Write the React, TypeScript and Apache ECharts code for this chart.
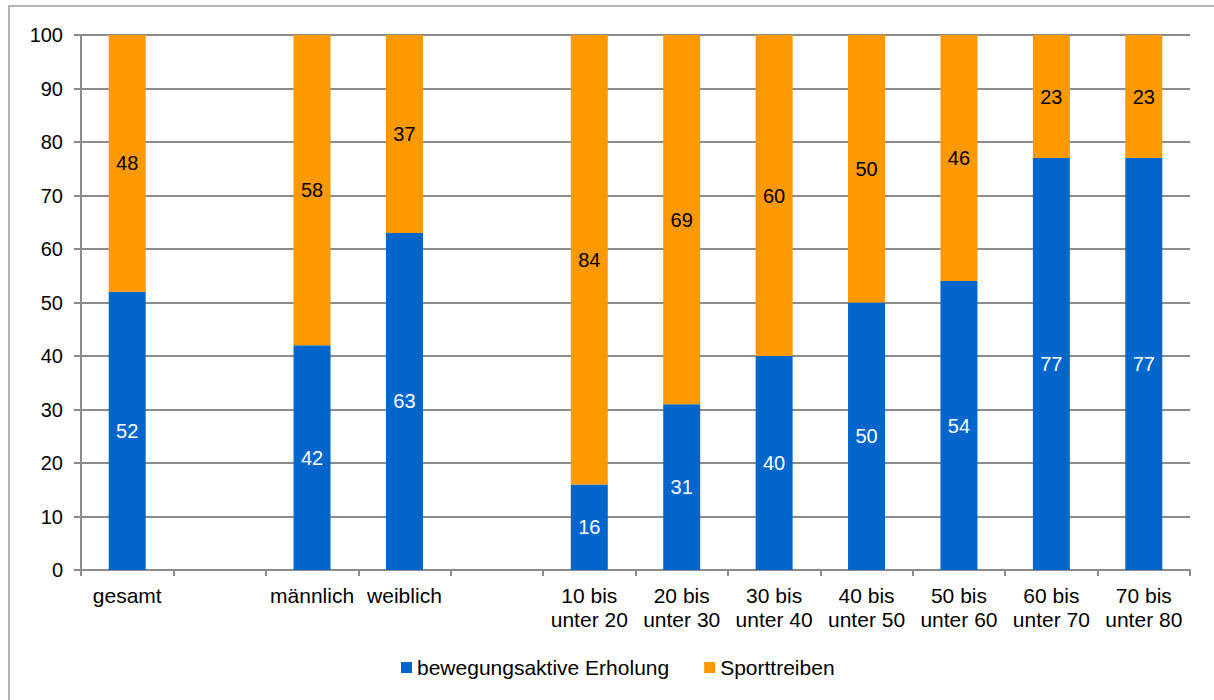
import React, { useEffect, useRef } from "react";
import * as echarts from "echarts";

const categories = [
  "gesamt", "", "männlich", "weiblich", "",
  "10 bis\nunter 20", "20 bis\nunter 30", "30 bis\nunter 40", "40 bis\nunter 50",
  "50 bis\nunter 60", "60 bis\nunter 70", "70 bis\nunter 80",
];
const erholung = [52, null, 42, 63, null, 16, 31, 40, 50, 54, 77, 77];
const sport = [48, null, 58, 37, null, 84, 69, 60, 50, 46, 23, 23];
const yTicks = { min: 0, max: 100, interval: 10 };

const FONT = "Liberation Sans, Arial, sans-serif";

export default function App() {
  const ref = useRef<HTMLDivElement>(null);
  useEffect(() => {
    if (!ref.current) return;
    const chart = echarts.init(ref.current, undefined, { renderer: "svg" });
    chart.setOption({
      animation: false,
      textStyle: { fontFamily: FONT },
      graphic: [
        {
          type: "rect",
          shape: { x: 9, y: 6, width: 1230, height: 720 },
          style: { fill: "none", stroke: "#9a9a9a", lineWidth: 1.5 },
          silent: true,
        },
      ],
      grid: { left: 81, right: 24, top: 35, bottom: 130, containLabel: false },
      legend: {
        top: 652,
        left: 396,
        itemWidth: 11,
        itemHeight: 11,
        itemGap: 35,
        icon: "rect",
        textStyle: { fontSize: 21, color: "#000", fontFamily: FONT, padding: [0, 0, 0, 0] },
        data: ["bewegungsaktive Erholung", "Sporttreiben"],
      },
      xAxis: {
        type: "category",
        data: categories,
        axisLine: { lineStyle: { color: "#8c8c8c", width: 2 } },
        axisTick: { show: true, interval: 0, length: 6, lineStyle: { color: "#8c8c8c", width: 2 } },
        axisLabel: {
          interval: 0,
          color: "#000",
          fontSize: 21,
          lineHeight: 24,
          margin: 13,
          fontFamily: FONT,
        },
      },
      yAxis: {
        type: "value",
        min: yTicks.min,
        max: yTicks.max,
        interval: yTicks.interval,
        axisLine: { show: true, lineStyle: { color: "#8c8c8c", width: 2 } },
        axisTick: { show: true, length: 7, lineStyle: { color: "#8c8c8c", width: 2 } },
        splitLine: { lineStyle: { color: "#8c8c8c", width: 2 } },
        axisLabel: { color: "#000", fontSize: 20, margin: 18, fontFamily: FONT },
      },
      series: [
        {
          name: "bewegungsaktive Erholung",
          type: "bar",
          stack: "s",
          barWidth: 37,
          data: erholung,
          itemStyle: { color: "#0066CC" },
          label: { show: true, position: "inside", color: "#fff", fontSize: 20, fontFamily: FONT },
        },
        {
          name: "Sporttreiben",
          type: "bar",
          stack: "s",
          barWidth: 37,
          data: sport,
          itemStyle: { color: "#FF9900" },
          label: { show: true, position: "inside", color: "#000", fontSize: 20, fontFamily: FONT },
        },
      ],
    });
    return () => chart.dispose();
  }, []);
  return (
    <div
      ref={ref}
      style={{ position: "fixed", left: 0, top: 0, width: 1214, height: 700, background: "#fff" }}
    />
  );
}
